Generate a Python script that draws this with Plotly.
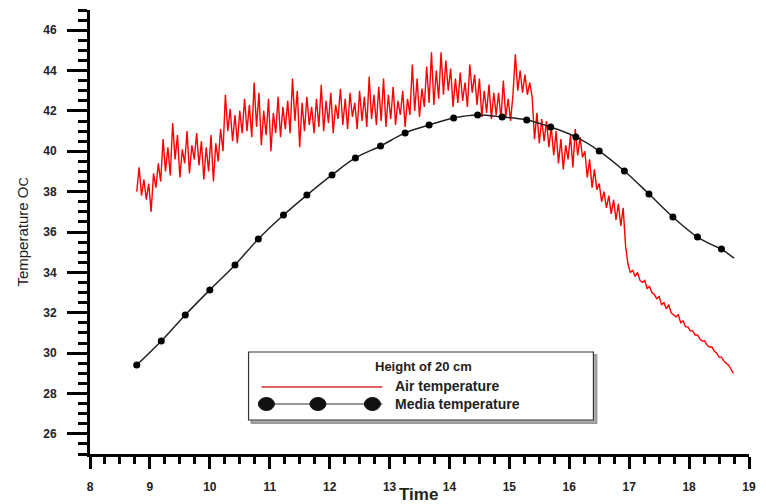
import numpy as np
import plotly.graph_objects as go

# ---------------- data ----------------
media_time = [8.78, 9.19, 9.59, 10.00, 10.42, 10.81, 11.23, 11.62, 12.04, 12.43,
              12.85, 13.26, 13.66, 14.07, 14.47, 14.88, 15.29, 15.69, 16.11, 16.50,
              16.92, 17.33, 17.73, 18.14, 18.54]
media_temp = [29.41, 30.60, 31.89, 33.13, 34.37, 35.65, 36.84, 37.83, 38.83, 39.67,
              40.26, 40.91, 41.30, 41.65, 41.80, 41.70, 41.55, 41.20, 40.71, 40.01,
              39.02, 37.88, 36.74, 35.75, 35.16]
media_end_time = [18.54, 18.75]
media_end_temp = [35.16, 34.71]

air_start, air_end = 8.78, 18.74
air_temp = [
    # 8.78 - 9.74
    38.0, 39.2, 37.8, 38.6, 37.6, 38.4, 37.0, 38.9, 38.2, 39.4,
    38.5, 40.6, 39.0, 40.2, 38.8, 41.4, 39.6, 40.8, 38.7, 40.1,
    39.4, 41.0, 38.9, 40.3, 39.6,
    # 9.78 - 10.74
    40.9, 39.3, 40.5, 38.6, 40.2, 39.0, 40.8, 38.5, 40.4, 39.5,
    41.1, 40.0, 42.8, 41.0, 42.1, 40.5, 41.8, 40.4, 42.0, 40.9,
    42.6, 41.0, 42.3, 40.7, 43.4,
    # 10.78 - 11.74
    41.2, 42.9, 40.3, 42.0, 40.8, 42.6, 40.0, 41.9, 40.9, 42.7,
    40.7, 42.2, 41.1, 42.5, 40.9, 43.6, 41.5, 43.0, 40.2, 42.4,
    41.0, 42.7, 41.3, 42.2, 40.9,
    # 11.78 - 12.74
    42.6, 41.2, 43.3, 41.0, 42.5, 41.4, 42.9, 40.9, 42.3, 41.6,
    43.1, 41.3, 42.6, 41.1, 42.9, 41.7, 42.4, 41.1, 43.0, 41.5,
    42.7, 41.2, 43.7, 41.6, 42.8,
    # 12.78 - 13.74
    41.3, 43.2, 41.5, 43.6, 41.2, 42.8, 41.6, 43.2, 41.3, 42.5,
    41.8, 43.0, 41.2, 42.6, 41.8, 44.3, 42.0, 43.6, 41.7, 43.1,
    42.2, 44.2, 42.4, 44.9, 42.3,
    # 13.78 - 14.74
    44.0, 42.6, 44.9, 42.8, 44.5, 43.0, 44.1, 42.2, 43.6, 42.4,
    43.9, 42.5, 43.4, 42.2, 44.3, 42.9, 43.8, 42.3, 43.6, 41.7,
    43.0, 41.9, 43.3, 41.6, 42.9,
    # 14.78 - 15.74
    41.8, 42.9, 41.6, 43.5, 41.7, 42.6, 41.5, 42.8, 44.8, 43.0,
    44.0, 42.9, 43.8, 42.8, 43.4, 42.7, 40.6, 41.9, 40.4, 41.6,
    40.5, 41.5, 40.2, 41.2, 39.8,
    # 15.78 - 16.74
    41.0, 39.4, 40.6, 39.1, 40.3, 39.6, 40.8, 39.2, 41.1, 39.8,
    40.7, 39.7, 40.0, 38.7, 39.6, 38.2, 39.1, 38.1, 38.4, 37.5,
    38.0, 37.2, 37.8, 36.9, 37.6,
    # 16.78 - 17.74
    36.6, 37.4, 36.3, 37.2, 35.3, 34.4, 34.0, 34.1, 33.8, 34.0,
    33.6, 33.5, 33.6, 33.2, 33.3, 33.0, 32.9, 32.7, 32.8, 32.4,
    32.5, 32.2, 32.4, 32.0, 31.9,
    # 17.78 - 18.74
    31.8, 31.9, 31.5, 31.6, 31.3, 31.3, 31.1, 31.1, 30.9, 30.9,
    30.7, 30.6, 30.6, 30.4, 30.3, 30.3, 30.1, 30.0, 29.8, 29.8,
    29.6, 29.5, 29.4, 29.2, 29.0,
]
air_time = np.linspace(air_start, air_end, len(air_temp))

x_ticks = list(range(8, 20))
y_ticks = list(range(26, 48, 2))

legend_title = "Height of 20 cm"
legend_names = ["Air temperature", "Media temperature"]

# ---------------- figure ----------------
FONT = "Liberation Sans, Arial, sans-serif"
fig = go.Figure()

fig.add_trace(go.Scatter(x=air_time, y=air_temp, mode="lines",
                         line=dict(color="#ff0000", width=1.4),
                         showlegend=False, hoverinfo="skip"))
fig.add_trace(go.Scatter(x=media_end_time, y=media_end_temp, mode="lines",
                         line=dict(color="#222222", width=1.5, shape="spline"),
                         showlegend=False))
fig.add_trace(go.Scatter(x=media_time, y=media_temp, mode="lines+markers",
                         line=dict(color="#222222", width=1.5, shape="spline"),
                         marker=dict(color="black", size=7, symbol="circle"),
                         showlegend=False))

axis_common = dict(showline=True, linecolor="black", linewidth=3,
                   ticks="outside", tickcolor="black", tickwidth=2.5,
                   showgrid=False, zeroline=False, mirror=False,
                   tickfont=dict(family=FONT, size=12, color="#222", weight="bold"))

fig.update_xaxes(range=[8, 19], tickvals=x_ticks, ticklen=12,
                 ticklabelstandoff=8,
                 minor=dict(ticks="outside", dtick=0.25, ticklen=7, tickwidth=2.5,
                            tickcolor="black", showgrid=False),
                 **axis_common)
fig.update_yaxes(range=[25, 47], tickvals=y_ticks, ticklen=20,
                 ticklabelstandoff=8,
                 minor=dict(ticks="outside", dtick=0.5, ticklen=9, tickwidth=2.5,
                            tickcolor="black", showgrid=False),
                 **axis_common)

# custom legend (paper coordinates)
L, R, B, T = 90, 755, 454, 10
def px(xp):
    return (xp - L) / (R - L)
def py(yp):
    return (B - yp) / (B - T)

shapes = []
# shadow
shapes.append(dict(type="rect", xref="paper", yref="paper",
                   x0=px(253), x1=px(601), y0=py(423), y1=py(355),
                   line=dict(color="#9a9a9a", width=2), fillcolor="#b0b0b0", layer="above"))
shapes.append(dict(type="rect", xref="paper", yref="paper",
                   x0=px(250), x1=px(598), y0=py(420), y1=py(352),
                   line=dict(color="#333", width=1.2), fillcolor="white", layer="above"))
shapes.append(dict(type="line", xref="paper", yref="paper",
                   x0=px(263), x1=px(385), y0=py(387), y1=py(387),
                   line=dict(color="#e06060", width=2), layer="above"))
shapes.append(dict(type="line", xref="paper", yref="paper",
                   x0=px(263), x1=px(385), y0=py(404), y1=py(404),
                   line=dict(color="#333", width=1.2), layer="above"))
for cx in (268, 320, 375):
    shapes.append(dict(type="circle", xref="paper", yref="paper",
                       xsizemode="pixel", ysizemode="pixel",
                       xanchor=px(cx), yanchor=py(404),
                       x0=-8, x1=8, y0=-6.5, y1=6.5,
                       fillcolor="#111", line=dict(color="#111", width=1), layer="above"))

annotations = [
    dict(text=legend_title, xref="paper", yref="paper", x=px(427), y=py(366),
         showarrow=False, xanchor="center", yanchor="middle",
         font=dict(family=FONT, size=13, color="#222", weight="bold")),
    dict(text=legend_names[0], xref="paper", yref="paper", x=px(396), y=py(386),
         showarrow=False, xanchor="left", yanchor="middle",
         font=dict(family=FONT, size=14, color="#222", weight="bold")),
    dict(text=legend_names[1], xref="paper", yref="paper", x=px(396), y=py(404),
         showarrow=False, xanchor="left", yanchor="middle",
         font=dict(family=FONT, size=14, color="#222", weight="bold")),
    dict(text="Time", xref="paper", yref="paper", x=px(421), y=py(494),
         showarrow=False, xanchor="center", yanchor="middle",
         font=dict(family=FONT, size=17, color="#222", weight="bold")),
    dict(text="Temperature O<span style='font-size:13px'>C</span>", xref="paper", yref="paper",
         x=px(21), y=py(232), textangle=-90,
         showarrow=False, xanchor="center", yanchor="middle",
         font=dict(family=FONT, size=15, color="#222")),
]

fig.update_layout(width=766, height=504,
                  margin=dict(l=L, r=766 - R, t=T, b=504 - B),
                  paper_bgcolor="white", plot_bgcolor="white",
                  showlegend=False, shapes=shapes, annotations=annotations)

fig.write_html("out.html")
